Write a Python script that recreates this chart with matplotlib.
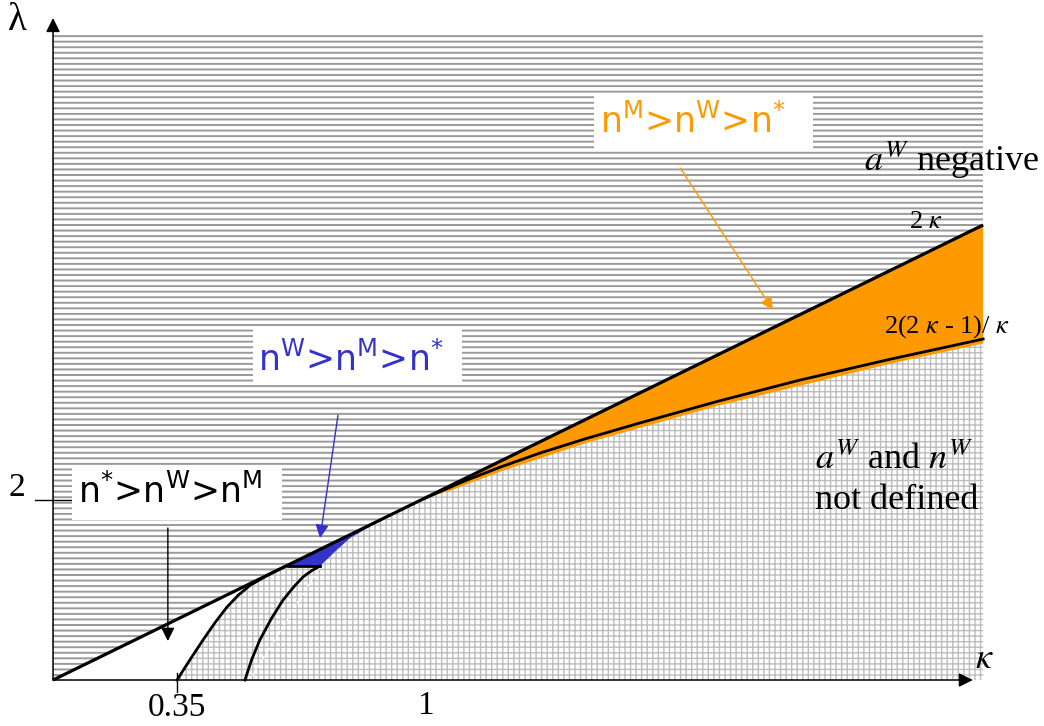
import numpy as np
import matplotlib
matplotlib.use('Agg')
import matplotlib.pyplot as plt
from matplotlib.patches import Rectangle

# line lambda = 2 kappa (read end points)
line_k = [0.025, 2.463]
line_l = [0.0, 5.056]
# curve starting at kappa = 0.35, touching the line
a_k = [0.35, 0.384, 0.418, 0.45, 0.481, 0.511, 0.541, 0.57, 0.60, 0.63]
a_l = [0.0, 0.226, 0.444, 0.64, 0.811, 0.945, 1.05, 1.122, 1.193, 1.255]
# second curve from about 0.53
b_k = [0.528, 0.546, 0.567, 0.597, 0.628, 0.655, 0.68, 0.703, 0.725]
b_l = [0.0, 0.23, 0.444, 0.68, 0.889, 1.03, 1.144, 1.215, 1.267]
# horizontal piece closing the blue region
h_k = [0.641, 0.725]
h_l = [1.267, 1.267]
# lower edge of blue region / grid up to kappa = 1
g_k = [0.725, 0.765, 0.803, 0.86, 0.93, 1.0]
g_l = [1.267, 1.43, 1.575, 1.715, 1.868, 2.02]
# 2(2k-1)/k for k > 1
c_k = [1.0, 1.1, 1.2, 1.3, 1.42, 1.563, 1.77, 1.983, 2.22, 2.463]
c_l = [2.02, 2.205, 2.37, 2.52, 2.68, 2.856, 3.10, 3.333, 3.565, 3.789]
# lower edge of the orange fill
o_k = [1.0, 1.07, 1.2, 1.42, 1.77, 2.22, 2.463]
o_l = [2.02, 2.11, 2.32, 2.63, 3.05, 3.515, 3.74]
top_l = 7.17

fig = plt.figure(figsize=(10.44, 7.26), dpi=100)
ax = fig.add_axes([0, 0, 1, 1])
ax.set_xlim(-0.114, 2.6225)
ax.set_ylim(-0.511, 7.556)
ax.axis('off')

k0, k1 = line_k
# horizontal hatch everywhere
plt.rcParams['hatch.linewidth'] = 1.4
ax.fill([k0, k1, k1, k0], [0, 0, top_l, top_l], facecolor='white',
        edgecolor='#9a9a9a', hatch='---', lw=0, zorder=1)
# white below the line
ax.fill([k0, k1, k1], [0, line_l[1], 0], facecolor='white', lw=0, zorder=2)
# grid region
plt.rcParams['hatch.linewidth'] = 1.0
gx = a_k[:9] + c_k + [c_k[-1], a_k[0]]
gy = a_l[:9] + c_l + [0, 0]
ax.fill(gx, gy, facecolor='white', edgecolor='#bdbdbd', hatch='+++', lw=0, zorder=3)
ax.plot([0.541, 0.725], [0.0, 1.26], color='white', lw=1.2, ls=(0, (1.5, 1.5)), zorder=3.5)

# orange region
ax.fill([1.0, k1] + o_k[::-1], [2.02, line_l[1]] + o_l[::-1],
        facecolor='#ff9900', lw=0, zorder=4)
# blue region
ax.fill([0.641] + g_k[:5] + [0.93], [1.272] + g_l[:5] + [1.877],
        facecolor='#3333cc', lw=0, zorder=4)

# black curves
ax.plot(line_k, line_l, color='black', lw=2.3, zorder=6, solid_capstyle='butt')
ax.plot(a_k, a_l, color='black', lw=2, zorder=6)
ax.plot(b_k, b_l, color='black', lw=2, zorder=6)
ax.plot(h_k, h_l, color='black', lw=2, zorder=6)
ax.plot(c_k, c_l, color='black', lw=2, zorder=6)

# axes with arrows
arr = dict(arrowstyle='-|>', color='black', lw=1.1, mutation_scale=21, shrinkA=0, shrinkB=0)
ax.annotate('', xy=(2.436, 0), xytext=(k0, 0), arrowprops=arr, zorder=7)
ax.annotate('', xy=(k0, 7.356), xytext=(k0, 0), arrowprops=arr, zorder=7)
ax.plot([0.35, 0.35], [0.078, -0.133], color='black', lw=1, zorder=7)
ax.plot([-0.022, 0.075], [2.0, 2.0], color='black', lw=1, zorder=7)

serif = 'Liberation Serif'
ax.text(0.35, -0.31, '0.35', family=serif, fontsize=24, ha='center', va='center')
ax.text(1.0, -0.29, '1', family=serif, fontsize=24, ha='center', va='center')
ax.text(-0.0695, 2.133, '2', family=serif, fontsize=24, ha='center', va='center')
ax.text(-0.067, 7.33, 'λ', family=serif, fontsize=28, ha='center', va='center')
ax.text(2.465, 0.244, r'$\kappa$', math_fontfamily='stix', fontsize=26, ha='center', va='center')

ax.text(2.379, 5.78, r'$a^W$ negative', family=serif, math_fontfamily='stix',
        fontsize=26, ha='center', va='center', zorder=8)
ax.text(2.313, 5.09, r'2 $\kappa$', family=serif, math_fontfamily='stix',
        fontsize=19, ha='center', va='center', zorder=8)
ax.text(2.368, 3.93, r'2(2 $\kappa$ - 1)/ $\kappa$', family=serif, math_fontfamily='stix',
        fontsize=19, ha='center', va='center', zorder=8)
ax.text(2.022, 2.444, r'$a^W$ and $n^W$', family=serif, math_fontfamily='stix',
        fontsize=26, ha='left', va='center', zorder=8)
ax.text(2.022, 2.0, 'not defined', family=serif, fontsize=26, ha='left', va='center', zorder=8)

# labelled boxes
boxes = [
    ((0.0747, 1.778), 0.550, 0.611, (0.333, 2.089), r'n$^{*}$>n$^{\mathrm{W}}$>n$^{\mathrm{M}}$', 'black'),
    ((0.549, 3.278), 0.548, 0.633, (0.806, 3.556), r'n$^{\mathrm{W}}$>n$^{\mathrm{M}}$>n$^{*}$', '#3333cc'),
    ((1.443, 5.9), 0.574, 0.6, (1.703, 6.2), r'n$^{\mathrm{M}}$>n$^{\mathrm{W}}$>n$^{*}$', '#ff9900'),
]
for xy, w, h, c, s, col in boxes:
    ax.add_patch(Rectangle(xy, w, h, facecolor='white', lw=0, zorder=8))
    ax.text(c[0], c[1], s, family='DejaVu Sans', math_fontfamily='dejavusans',
            fontsize=25, color=col, ha='center', va='center', zorder=9)

ax.annotate('', xy=(0.326, 0.433), xytext=(0.326, 1.689),
            arrowprops=dict(arrowstyle='-|>', color='black', lw=1, mutation_scale=20,
                            shrinkA=0, shrinkB=0), zorder=9)
ax.annotate('', xy=(0.725, 1.578), xytext=(0.772, 2.944),
            arrowprops=dict(arrowstyle='-|>', color='#3333cc', lw=1, mutation_scale=20,
                            shrinkA=0, shrinkB=0), zorder=9)
ax.annotate('', xy=(1.912, 4.111), xytext=(1.669, 5.689),
            arrowprops=dict(arrowstyle='-|>', color='#ff9900', lw=1, mutation_scale=19,
                            shrinkA=0, shrinkB=0), zorder=9)

fig.savefig('out.png', dpi=100)
